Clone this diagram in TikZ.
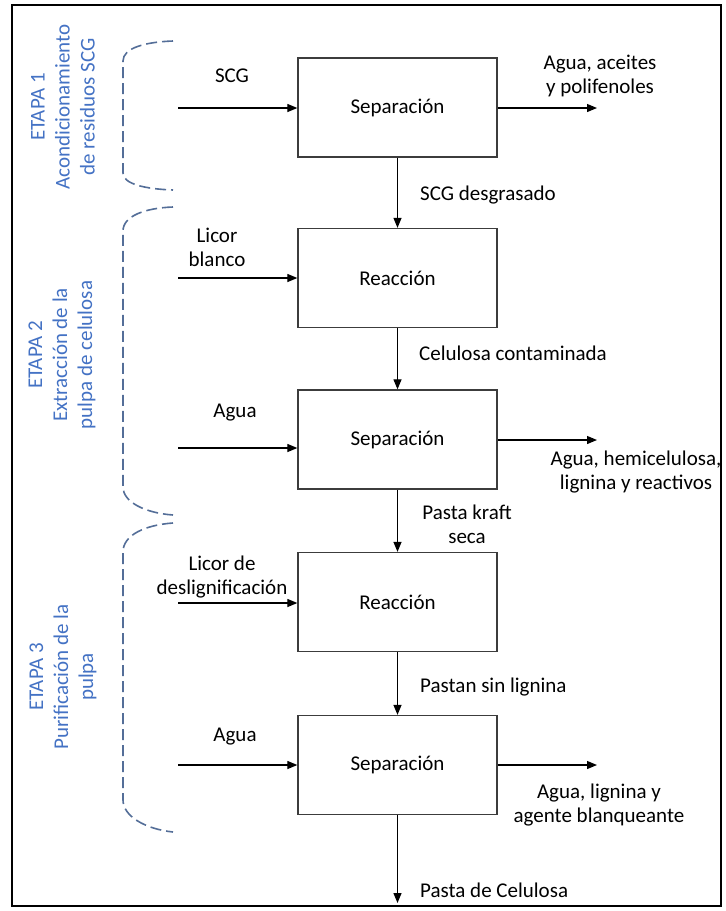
\documentclass[tikz,border=0pt]{standalone}
\usepackage{fontspec}
\setmainfont{Carlito}
\usetikzlibrary{arrows.meta}
\definecolor{stagetext}{RGB}{68,114,196}
\definecolor{stagebrace}{RGB}{84,110,152}
\definecolor{boxline}{RGB}{60,60,60}
\begin{document}
\begin{tikzpicture}[x=1pt,y=-1pt,
  font=\fontsize{21}{24}\selectfont,
  unit/.style={draw=boxline,line width=1.3pt,minimum width=199pt,minimum height=99pt,inner sep=0pt},
  flow/.style={line width=1.2pt,-{Triangle[length=10pt,width=8pt]}},
  lbl/.style={inner sep=0pt,align=center},
  lblL/.style={inner sep=0pt,anchor=west},
  stage/.style={inner sep=0pt,align=center,rotate=90,text=stagetext,font=\fontsize{21}{25}\selectfont},
  brace/.style={draw=stagebrace,line width=1.6pt,dash pattern=on 11pt off 5pt}]
\useasboundingbox (0,0) rectangle (726,911);
\draw[line width=2.4pt] (12,5) rectangle (721,906);

% process units
\node[unit] (b1) at (397.5,107.5) {Separación};
\node[unit] (b2) at (397.5,278) {Reacción};
\node[unit] (b3) at (397.5,439.5) {Separación};
\node[unit] (b4) at (397.5,602) {Reacción};
\node[unit] (b5) at (397.5,765) {Separación};

% feed and outlet points
\coordinate (in1) at (178,108);
\coordinate (in2) at (178,278);
\coordinate (in3) at (178,448);
\coordinate (in4) at (178,603);
\coordinate (in5) at (178,765);
\coordinate (out1) at (597,108);
\coordinate (out3) at (597,440);
\coordinate (out5) at (597,765);
\coordinate (prod) at (397.5,903);

% streams
\draw[flow] (in1) -- (in1 -| b1.west);
\draw[flow] (in2) -- (in2 -| b2.west);
\draw[flow] (in3) -- (in3 -| b3.west);
\draw[flow] (in4) -- (in4 -| b4.west);
\draw[flow] (in5) -- (in5 -| b5.west);
\draw[flow] (out1 -| b1.east) -- (out1);
\draw[flow] (out3 -| b3.east) -- (out3);
\draw[flow] (out5 -| b5.east) -- (out5);
\draw[flow] (b1.south) -- (b2.north);
\draw[flow] (b2.south) -- (b3.north);
\draw[flow] (b3.south) -- (b4.north);
\draw[flow] (b4.south) -- (b5.north);
\draw[flow] (b5.south) -- (prod);

% stream labels
\node[lbl] (tScg) at (232,76) {SCG};
\node[lbl] (tOut1) at (600,75.5) {Agua, aceites\\y polifenoles};
\node[lblL] (tDes) at (420,195) {SCG desgrasado};
\node[lbl] (tLic) at (217,247) {Licor\\blanco};
\node[lblL] (tCel) at (419,353) {Celulosa contaminada};
\node[lbl] (tAg3) at (235,413) {Agua};
\node[lbl] (tOut3) at (636,472) {Agua, hemicelulosa,\\lignina y reactivos};
\node[lbl] (tKraft) at (467,524) {Pasta kraft\\seca};
\node[lbl] (tLicD) at (222,577) {Licor de\\deslignificación};
\node[lblL] (tSin) at (420,687) {Pastan sin lignina};
\node[lbl] (tAg5) at (235,737) {Agua};
\node[lbl] (tOut5) at (599,805) {Agua, lignina y\\agente blanqueante};
\node[lblL] (tPasta) at (420,890) {Pasta de Celulosa};

% stage braces
\draw[brace] (173,41) .. controls (145,42) and (123,48) .. (123,61) -- (123,173)
  .. controls (123,184) and (145,189) .. (173,190);
\draw[brace] (173,207) .. controls (145,208) and (123,216) .. (123,231) -- (123,487)
  .. controls (123,502) and (145,513) .. (173,515);
\draw[brace] (173,523) .. controls (145,525) and (123,535) .. (123,552) -- (123,800)
  .. controls (123,816) and (145,829) .. (173,832);

% stage titles
\node[stage] (s1) at (63,107) {ETAPA 1\\Acondicionamiento\\de residuos SCG};
\node[stage] (s2) at (62,355) {ETAPA 2\\Extracción de la\\pulpa de celulosa};
\node[stage] (s3) at (63,677) {ETAPA 3\\Purificación de la\\pulpa};
\end{tikzpicture}
\end{document}
